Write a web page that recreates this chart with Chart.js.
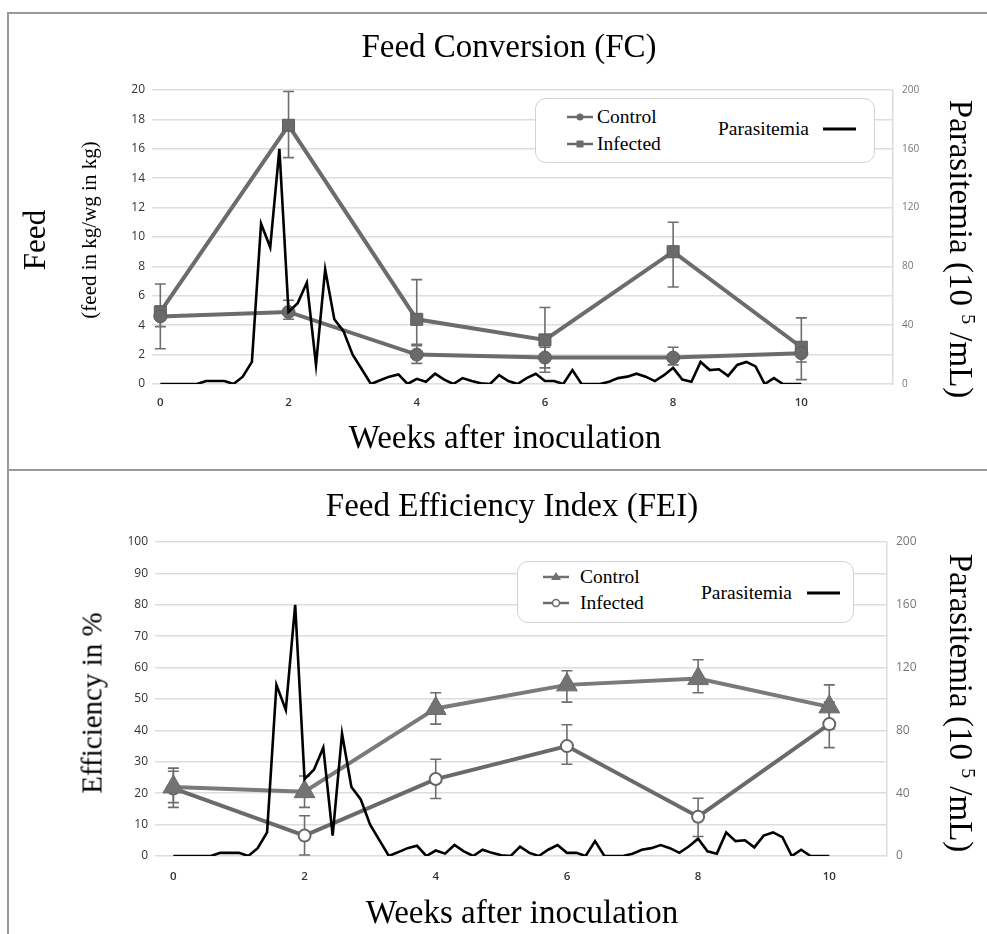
<!DOCTYPE html>
<html>
<head>
<meta charset="utf-8">
<script src="https://cdn.jsdelivr.net/npm/chart.js@4.4.1/dist/chart.umd.min.js"></script>
<style>
html,body{margin:0;padding:0;background:#fff;}
#wrap{position:relative;width:987px;height:934px;overflow:hidden;background:#fff;}
canvas{position:absolute;left:0;}
.t{position:absolute;font-family:'Liberation Serif','Times New Roman',serif;color:#000;white-space:nowrap;transform:translate(-50%,-50%);line-height:1;}
.rl{transform:translate(-50%,-50%) rotate(-90deg);}
.rr{transform:translate(-50%,-50%) rotate(90deg);}
.ln{position:absolute;background:#9a9a9a;}
.box{position:absolute;border:1.5px solid #d2d2d2;border-radius:11px;background:#fff;box-sizing:border-box;}
.lg{position:absolute;font-family:'Liberation Serif','Times New Roman',serif;font-size:19.5px;color:#000;white-space:nowrap;line-height:1;transform:translateY(-50%);}
svg.ic{position:absolute;overflow:visible;}
sup{font-size:0.6em;}
</style>
</head>
<body>
<div id="wrap">
  <canvas id="c1" width="987" height="470" style="top:0"></canvas>
  <canvas id="c2" width="987" height="464" style="top:470px"></canvas>

  <div class="ln" style="left:7px;top:12px;width:980px;height:2px"></div>
  <div class="ln" style="left:7px;top:12px;width:2px;height:922px"></div>
  <div class="ln" style="left:7px;top:469px;width:980px;height:2px"></div>

  <div class="t" style="left:509px;top:46px;font-size:33px">Feed Conversion (FC)</div>
  <div class="t" style="left:505px;top:437px;font-size:33px">Weeks after inoculation</div>
  <div class="t rl" style="left:34px;top:240px;font-size:31px">Feed</div>
  <div class="t rl" style="left:89px;top:230px;font-size:21px">(feed in kg/wg in kg)</div>
  <div class="t rr" style="left:961px;top:249px;font-size:33px">Parasitemia (10 <sup>5</sup> /mL)</div>

  <div class="t" style="left:512px;top:505px;font-size:33px">Feed Efficiency Index (FEI)</div>
  <div class="t" style="left:522px;top:912px;font-size:33px">Weeks after inoculation</div>
  <div class="t rl" style="left:92px;top:703px;font-size:29px">Efficiency in %</div>
  <div class="t rr" style="left:961px;top:703px;font-size:33px">Parasitemia (10 <sup>5</sup> /mL)</div>

  <!-- legend top -->
  <div class="box" style="left:535px;top:98px;width:340px;height:65px"></div>
  <svg class="ic" style="left:566px;top:110px" width="28" height="14"><line x1="1" y1="7" x2="27" y2="7" stroke="#6a6a6a" stroke-width="2.5"/><circle cx="14" cy="7" r="3.5" fill="#6a6a6a"/></svg>
  <div class="lg" style="left:597px;top:117px">Control</div>
  <svg class="ic" style="left:566px;top:137px" width="28" height="14"><line x1="1" y1="7" x2="27" y2="7" stroke="#6a6a6a" stroke-width="2.5"/><rect x="10.5" y="3.5" width="7" height="7" fill="#6a6a6a"/></svg>
  <div class="lg" style="left:597px;top:144px">Infected</div>
  <div class="lg" style="left:718px;top:129px">Parasitemia</div>
  <svg class="ic" style="left:823px;top:122px" width="34" height="14"><line x1="0" y1="7" x2="33" y2="7" stroke="#000" stroke-width="3"/></svg>

  <!-- legend bottom -->
  <div class="box" style="left:517px;top:561px;width:337px;height:62px"></div>
  <svg class="ic" style="left:542px;top:570px" width="28" height="14"><line x1="1" y1="7" x2="27" y2="7" stroke="#707070" stroke-width="2.5"/><polygon points="14,2 19,10 9,10" fill="#707070"/></svg>
  <div class="lg" style="left:580px;top:577px">Control</div>
  <svg class="ic" style="left:542px;top:596px" width="28" height="14"><line x1="1" y1="7" x2="27" y2="7" stroke="#6a6a6a" stroke-width="2.5"/><circle cx="14" cy="7" r="3.5" fill="#fff" stroke="#6a6a6a" stroke-width="1.5"/></svg>
  <div class="lg" style="left:580px;top:603px">Infected</div>
  <div class="lg" style="left:701px;top:593px">Parasitemia</div>
  <svg class="ic" style="left:807px;top:586px" width="34" height="14"><line x1="0" y1="7" x2="33" y2="7" stroke="#000" stroke-width="3"/></svg>
</div>

<script>
// ---- data ----
const weekTicks = [0, 2, 4, 6, 8, 10];
const weeks = [0, 2, 4, 6, 8, 10];

// Feed conversion (kg feed / kg weight gain)
const fcControl      = [4.6, 4.9, 2.0, 1.8, 1.8, 2.1];
const fcControlLow   = [3.9, 4.4, 1.4, 1.1, 1.3, 1.5];
const fcControlHigh  = [5.3, 5.7, 2.6, 2.5, 2.5, 2.8];
const fcInfected     = [4.9, 17.6, 4.4, 3.0, 9.0, 2.5];
const fcInfectedLow  = [2.4, 15.4, 2.7, 0.8, 6.6, 0.3];
const fcInfectedHigh = [6.8, 19.9, 7.1, 5.2, 11.0, 4.5];

// Feed efficiency index (%)
const feiControl      = [22, 20.5, 47, 54.5, 56.5, 47.5];
const feiControlLow   = [17, 15.5, 42, 49, 52, 40.5];
const feiControlHigh  = [28, 25.5, 52, 59, 62.5, 54.5];
const feiInfected     = [21.5, 6.5, 24.5, 35, 12.5, 42];
const feiInfectedLow  = [15.5, 0.3, 18.3, 29.2, 6.2, 34.5];
const feiInfectedHigh = [27, 12.8, 30.8, 41.8, 18.4, 49];

// Parasitemia (10^5 /mL), daily readings, day 0..70
const parasitemiaDays = [0,1,2,3,4,5,6,7,8,9,10,11,12,13,14,15,16,17,18,19,20,21,22,23,24,25,26,27,28,29,30,31,32,33,34,35,36,37,38,39,40,41,42,43,44,45,46,47,48,49,50,51,52,53,54,55,56,57,58,59,60,61,62,63,64,65,66,67,68,69,70];
const parasitemia = [0,0,0,0,0,2,2,2,0,5,15,109,93,160,49,55,69,13,78,44,36,20,10,0,2.5,5,6.5,0,3.5,1.5,7,3,0,4,2,0.5,0,6,2,0,4,7,2,2,0,9.5,0,0,0,1.5,4,5,7,5,2,6,11,3,1.5,15,9.5,10,5.5,13,15,12,0,4,0,0,0];

const DAYS_PER_WEEK = 7;
const toXY = (xs, ys) => xs.map((x, i) => ({x: x, y: ys[i]}));
const paraXY = parasitemiaDays.map((d, i) => ({x: d / DAYS_PER_WEEK, y: parasitemia[i]}));

// ---- error bar plugin (uses chart scales) ----
const errorBars = {
  id: 'errorBars',
  beforeDatasetsDraw(chart) {
    const ctx = chart.ctx;
    const xs = chart.scales.x, ys = chart.scales.y;
    chart.data.datasets.forEach(ds => {
      if (!ds.errLow) return;
      ctx.save();
      ctx.strokeStyle = ds.errColor || '#707070';
      ctx.lineWidth = 1.6;
      ds.data.forEach((p, j) => {
        const x = xs.getPixelForValue(p.x);
        const y1 = ys.getPixelForValue(ds.errLow[j]);
        const y2 = ys.getPixelForValue(ds.errHigh[j]);
        ctx.beginPath();
        ctx.moveTo(x, y1); ctx.lineTo(x, y2);
        ctx.moveTo(x - 5.5, y1); ctx.lineTo(x + 5.5, y1);
        ctx.moveTo(x - 5.5, y2); ctx.lineTo(x + 5.5, y2);
        ctx.stroke();
      });
      ctx.restore();
    });
  }
};

const tickFont = {family: "'Open Sans', sans-serif", size: 12};

function scalesFor(o) {
  return {
    x: {
      type: 'linear', min: o.xmin, max: o.xmax,
      afterBuildTicks: s => { s.ticks = weekTicks.map(v => ({value: v})); },
      grid: {display: false, drawTicks: false}, border: {display: false},
      ticks: {padding: o.xpad, font: {family: "'Open Sans', sans-serif", size: 11.5, weight: '600'}, color: '#333', maxRotation: 0, autoSkip: false},
      afterFit: s => { s.height = 34; }
    },
    y: {
      position: 'left', min: 0, max: o.ymax,
      ticks: {stepSize: o.ystep, padding: 7, font: tickFont, color: '#333'},
      grid: {color: '#dddddd', lineWidth: 1.6, drawTicks: false},
      border: {display: false},
      afterFit: s => { s.width = 50; }
    },
    y2: {
      position: 'right', min: 0, max: 200,
      ticks: {stepSize: 40, padding: 9, font: {family: "'Open Sans', sans-serif", size: o.y2size}, color: '#777'},
      grid: {display: false, drawTicks: false},
      border: {display: true, color: '#dddddd', width: 1.6},
      afterFit: s => { s.width = 50; }
    }
  };
}

const paraDataset = {
  label: 'Parasitemia', data: paraXY, yAxisID: 'y2',
  borderColor: '#000', borderWidth: 2.6, pointRadius: 0, tension: 0, order: 0
};

new Chart(document.getElementById('c1'), {
  type: 'line',
  data: {
    datasets: [
      Object.assign({}, paraDataset),
      {label: 'Infected', data: toXY(weeks, fcInfected), yAxisID: 'y', order: 2,
       borderColor: '#6c6c6c', borderWidth: 4, pointStyle: 'rect', pointRadius: 8.5,
       pointBackgroundColor: '#6a6a6a', pointBorderColor: '#5c5c5c', pointBorderWidth: 1,
       errLow: fcInfectedLow, errHigh: fcInfectedHigh, errColor: '#6e6e6e'},
      {label: 'Control', data: toXY(weeks, fcControl), yAxisID: 'y', order: 1,
       borderColor: '#6c6c6c', borderWidth: 4, pointStyle: 'circle', pointRadius: 6.5,
       pointBackgroundColor: '#6a6a6a', pointBorderColor: '#5c5c5c', pointBorderWidth: 1,
       errLow: fcControlLow, errHigh: fcControlHigh, errColor: '#6e6e6e'}
    ]
  },
  options: {
    responsive: false, animation: false,
    layout: {padding: {left: 102, right: 44, top: 90, bottom: 52}},
    plugins: {legend: {display: false}, tooltip: {enabled: false}},
    scales: scalesFor({xmin: -0.13, xmax: 11.43, ymax: 20, ystep: 2, xpad: 12, y2size: 10})
  },
  plugins: [errorBars]
});

new Chart(document.getElementById('c2'), {
  type: 'line',
  data: {
    datasets: [
      Object.assign({}, paraDataset),
      {label: 'Infected', data: toXY(weeks, feiInfected), yAxisID: 'y', order: 2,
       borderColor: '#6a6a6a', borderWidth: 4, pointStyle: 'circle', pointRadius: 6,
       pointBackgroundColor: '#ffffff', pointBorderColor: '#666666', pointBorderWidth: 2,
       errLow: feiInfectedLow, errHigh: feiInfectedHigh, errColor: '#6e6e6e'},
      {label: 'Control', data: toXY(weeks, feiControl), yAxisID: 'y', order: 1,
       borderColor: '#7a7a7a', borderWidth: 4, pointStyle: 'triangle', pointRadius: 12,
       pointBackgroundColor: '#737373', pointBorderColor: '#6a6a6a', pointBorderWidth: 1,
       errLow: feiControlLow, errHigh: feiControlHigh, errColor: '#6e6e6e'}
    ]
  },
  options: {
    responsive: false, animation: false,
    layout: {padding: {left: 105, right: 50, top: 72, bottom: 44}},
    plugins: {legend: {display: false}, tooltip: {enabled: false}},
    scales: scalesFor({xmin: -0.28, xmax: 10.88, ymax: 100, ystep: 10, xpad: 14, y2size: 12})
  },
  plugins: [errorBars]
});
</script>
</body>
</html>
